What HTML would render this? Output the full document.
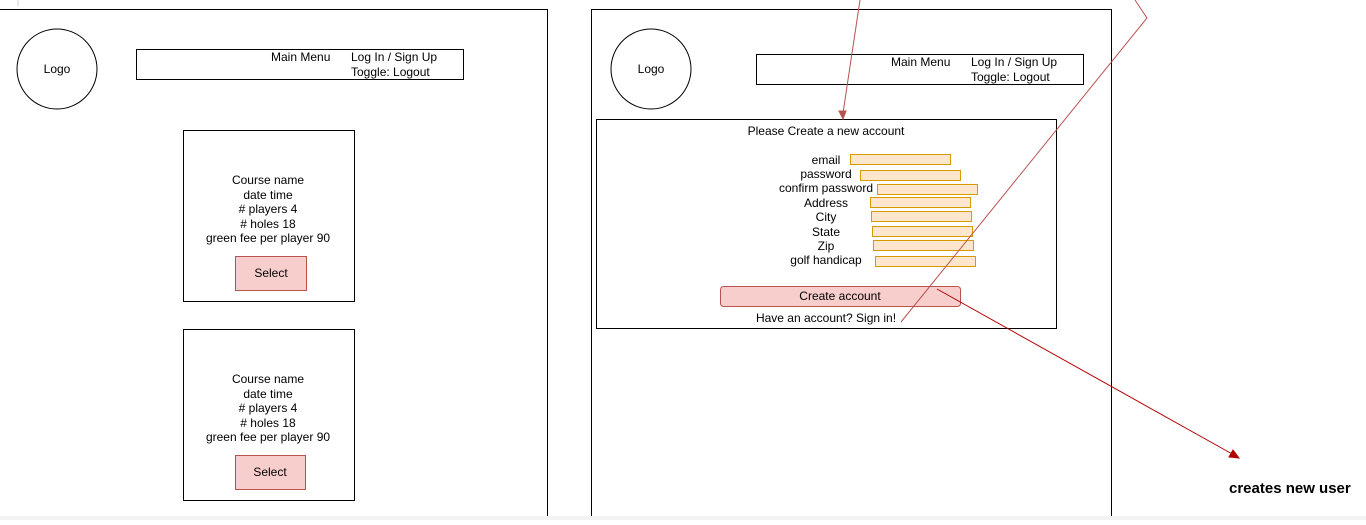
<!DOCTYPE html>
<html><head><meta charset="utf-8"><style>
body{margin:0;width:1366px;height:520px;overflow:hidden;background:#fff;font-family:"Liberation Sans",Arial,sans-serif;}
svg text{font-family:"Liberation Sans",Arial,sans-serif;font-size:12px;fill:#000;}
</style></head><body>
<svg width="1366" height="520" xmlns="http://www.w3.org/2000/svg">
<rect x="0" y="516" width="1366" height="4" fill="#f3f3f3"/>
<line x1="18" y1="0" x2="18" y2="6" stroke="#ccc"/>
<path d="M-1 9.5H547.5V516" fill="none" stroke="#000"/>
<circle cx="57" cy="69" r="40" fill="none" stroke="#000"/>
<text x="57" y="73" text-anchor="middle">Logo</text>
<rect x="136.5" y="49.5" width="327" height="30" fill="none" stroke="#000"/>
<text x="271" y="61">Main Menu</text>
<text x="351" y="61">Log In / Sign Up</text>
<text x="351" y="76">Toggle: Logout</text>
<g text-anchor="middle">
<rect x="183.5" y="130.5" width="171" height="171" fill="none" stroke="#000"/>
<text x="268" y="184">Course name</text><text x="268" y="199">date time</text><text x="268" y="213"># players 4</text><text x="268" y="228"># holes 18</text><text x="268" y="242">green fee per player 90</text>
<rect x="235.5" y="256.5" width="71" height="34" fill="#f8cecc" stroke="#b85450"/>
<text x="271" y="277">Select</text>
<rect x="183.5" y="329.5" width="171" height="171" fill="none" stroke="#000"/>
<text x="268" y="383">Course name</text><text x="268" y="398">date time</text><text x="268" y="412"># players 4</text><text x="268" y="427"># holes 18</text><text x="268" y="441">green fee per player 90</text>
<rect x="235.5" y="455.5" width="70" height="34" fill="#f8cecc" stroke="#b85450"/>
<text x="270" y="476">Select</text>
</g>
<path d="M591.5 516V9.5H1111.5V516" fill="none" stroke="#000"/>
<circle cx="651" cy="69" r="40" fill="none" stroke="#000"/>
<text x="651" y="73" text-anchor="middle">Logo</text>
<rect x="756.5" y="54.5" width="327" height="30" fill="none" stroke="#000"/>
<text x="891" y="66">Main Menu</text>
<text x="971" y="66">Log In / Sign Up</text>
<text x="971" y="81">Toggle: Logout</text>
<rect x="596.5" y="119.5" width="460" height="209" fill="none" stroke="#000"/>
<g text-anchor="middle">
<text x="826" y="135">Please Create a new account</text>
<text x="826" y="164">email</text>
<text x="826" y="178">password</text>
<text x="826" y="192">confirm password</text>
<text x="826" y="207">Address</text>
<text x="826" y="221">City</text>
<text x="826" y="236">State</text>
<text x="826" y="250">Zip</text>
<text x="826" y="264">golf handicap</text>
</g>
<g fill="#ffe6cc" stroke="#d79b00">
<rect x="850.5" y="154.5" width="100" height="10"/>
<rect x="860.5" y="170.5" width="100" height="10"/>
<rect x="877.5" y="184.5" width="100" height="10"/>
<rect x="870.5" y="197.5" width="100" height="10"/>
<rect x="871.5" y="211.5" width="100" height="10"/>
<rect x="872.5" y="226.5" width="100" height="10"/>
<rect x="873.5" y="240.5" width="100" height="10"/>
<rect x="875.5" y="256.5" width="100" height="10"/>
</g>
<rect x="720.5" y="286.5" width="240" height="20" rx="3" fill="#f8cecc" stroke="#b85450"/>
<text x="840" y="300" text-anchor="middle">Create account</text>
<text x="826" y="322" text-anchor="middle">Have an account? Sign in!</text>
<line x1="860" y1="0" x2="843" y2="113" stroke="#b85450"/>
<path d="M839 111L843 119L846 111Z" fill="#b85450" stroke="#b85450"/>
<polyline points="1135,0 1147,18 901,322" fill="none" stroke="#b85450"/>
<line x1="937" y1="289" x2="1234" y2="455" stroke="#b20000"/>
<path d="M1239 458L1229 457L1233 450Z" fill="#b20000" stroke="#b20000"/>
<text x="1229" y="493" style="font-weight:bold;font-size:15px">creates new user</text>
</svg>
</body></html>
